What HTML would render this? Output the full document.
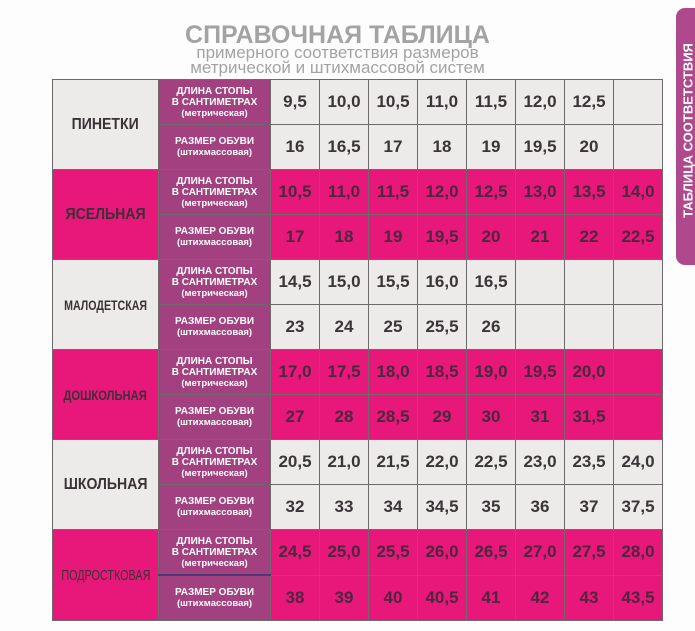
<!DOCTYPE html>
<html><head><meta charset="utf-8"><style>
body{margin:0;width:695px;height:631px;background:#fdfdfd;position:relative;overflow:hidden;font-family:"Liberation Sans",sans-serif}
.t{position:absolute;left:0;width:715px;text-align:center;color:#a3a3a3}
table{position:absolute;left:52px;top:79px;width:610px;border-collapse:collapse;table-layout:fixed}
td{border:1px solid #6e6a6c;height:44px;padding:0;text-align:center;vertical-align:middle}
.c{font-weight:bold;font-size:16px;color:#3a3236;white-space:nowrap;overflow:visible}
.c span{display:inline-block;transform:scaleX(0.88);margin:0 -30px}
.l{background:#a3407f;color:#fff;font-weight:bold;font-size:10px;line-height:11px}
.l i{font-style:normal;font-size:9.5px}
.v{font-weight:bold;font-size:17px;color:#3b3438}
.w .c,.w .v{background:#ecebea}
.p .c,.p .v{background:#e8177a}
.p .v{color:#4a2840}
.tab{position:absolute;left:676px;top:8px;width:30px;height:257px;background:#b0488e;border-radius:9px 0 0 9px}
.tab span{position:absolute;left:-113px;top:115px;width:250px;transform:rotate(-90deg);color:#fff;font-weight:bold;font-size:13px;white-space:nowrap;text-align:center}
</style></head><body>
<div class="t" style="top:21px;font-size:25px;font-weight:bold;left:-20px">СПРАВОЧНАЯ ТАБЛИЦА</div>
<div class="t" style="top:45px;font-size:17px;left:-20px;line-height:15px">примерного соответствия размеров<br>метрической и штихмассовой систем</div>
<div class="tab"><span>ТАБЛИЦА СООТВЕТСТВИЯ</span></div>
<table>
<colgroup><col style="width:106px"><col style="width:112px"><col style="width:49px"><col style="width:49px"><col style="width:49px"><col style="width:49px"><col style="width:49px"><col style="width:49px"><col style="width:49px"><col style="width:49px"></colgroup>
<tr class="w"><td class="c" rowspan="2"><span>ПИНЕТКИ</span></td><td class="l">ДЛИНА СТОПЫ<br>В САНТИМЕТРАХ<br><i>(метрическая)</i></td><td class="v">9,5</td><td class="v">10,0</td><td class="v">10,5</td><td class="v">11,0</td><td class="v">11,5</td><td class="v">12,0</td><td class="v">12,5</td><td class="v"></td></tr>
<tr class="w"><td class="l">РАЗМЕР ОБУВИ<br><i>(штихмассовая)</i></td><td class="v">16</td><td class="v">16,5</td><td class="v">17</td><td class="v">18</td><td class="v">19</td><td class="v">19,5</td><td class="v">20</td><td class="v"></td></tr>
<tr class="p"><td class="c" rowspan="2"><span>ЯСЕЛЬНАЯ</span></td><td class="l">ДЛИНА СТОПЫ<br>В САНТИМЕТРАХ<br><i>(метрическая)</i></td><td class="v">10,5</td><td class="v">11,0</td><td class="v">11,5</td><td class="v">12,0</td><td class="v">12,5</td><td class="v">13,0</td><td class="v">13,5</td><td class="v">14,0</td></tr>
<tr class="p"><td class="l">РАЗМЕР ОБУВИ<br><i>(штихмассовая)</i></td><td class="v">17</td><td class="v">18</td><td class="v">19</td><td class="v">19,5</td><td class="v">20</td><td class="v">21</td><td class="v">22</td><td class="v">22,5</td></tr>
<tr class="w"><td class="c" rowspan="2" style="font-size:14px"><span style="transform:scaleX(0.76)">МАЛОДЕТСКАЯ</span></td><td class="l">ДЛИНА СТОПЫ<br>В САНТИМЕТРАХ<br><i>(метрическая)</i></td><td class="v">14,5</td><td class="v">15,0</td><td class="v">15,5</td><td class="v">16,0</td><td class="v">16,5</td><td class="v"></td><td class="v"></td><td class="v"></td></tr>
<tr class="w"><td class="l">РАЗМЕР ОБУВИ<br><i>(штихмассовая)</i></td><td class="v">23</td><td class="v">24</td><td class="v">25</td><td class="v">25,5</td><td class="v">26</td><td class="v"></td><td class="v"></td><td class="v"></td></tr>
<tr class="p"><td class="c" rowspan="2" style="font-size:14px"><span style="transform:scaleX(0.8)">ДОШКОЛЬНАЯ</span></td><td class="l">ДЛИНА СТОПЫ<br>В САНТИМЕТРАХ<br><i>(метрическая)</i></td><td class="v">17,0</td><td class="v">17,5</td><td class="v">18,0</td><td class="v">18,5</td><td class="v">19,0</td><td class="v">19,5</td><td class="v">20,0</td><td class="v"></td></tr>
<tr class="p"><td class="l">РАЗМЕР ОБУВИ<br><i>(штихмассовая)</i></td><td class="v">27</td><td class="v">28</td><td class="v">28,5</td><td class="v">29</td><td class="v">30</td><td class="v">31</td><td class="v">31,5</td><td class="v"></td></tr>
<tr class="w"><td class="c" rowspan="2"><span>ШКОЛЬНАЯ</span></td><td class="l">ДЛИНА СТОПЫ<br>В САНТИМЕТРАХ<br><i>(метрическая)</i></td><td class="v">20,5</td><td class="v">21,0</td><td class="v">21,5</td><td class="v">22,0</td><td class="v">22,5</td><td class="v">23,0</td><td class="v">23,5</td><td class="v">24,0</td></tr>
<tr class="w"><td class="l">РАЗМЕР ОБУВИ<br><i>(штихмассовая)</i></td><td class="v">32</td><td class="v">33</td><td class="v">34</td><td class="v">34,5</td><td class="v">35</td><td class="v">36</td><td class="v">37</td><td class="v">37,5</td></tr>
<tr class="p"><td class="c" rowspan="2" style="font-size:15px;font-weight:normal"><span style="transform:scaleX(0.72)">ПОДРОСТКОВАЯ</span></td><td class="l">ДЛИНА СТОПЫ<br>В САНТИМЕТРАХ<br><i>(метрическая)</i></td><td class="v">24,5</td><td class="v">25,0</td><td class="v">25,5</td><td class="v">26,0</td><td class="v">26,5</td><td class="v">27,0</td><td class="v">27,5</td><td class="v">28,0</td></tr>
<tr class="p"><td class="l" style="border-top:2px solid #4a3a78">РАЗМЕР ОБУВИ<br><i>(штихмассовая)</i></td><td class="v">38</td><td class="v">39</td><td class="v">40</td><td class="v">40,5</td><td class="v">41</td><td class="v">42</td><td class="v">43</td><td class="v">43,5</td></tr>
</table>
</body></html>
